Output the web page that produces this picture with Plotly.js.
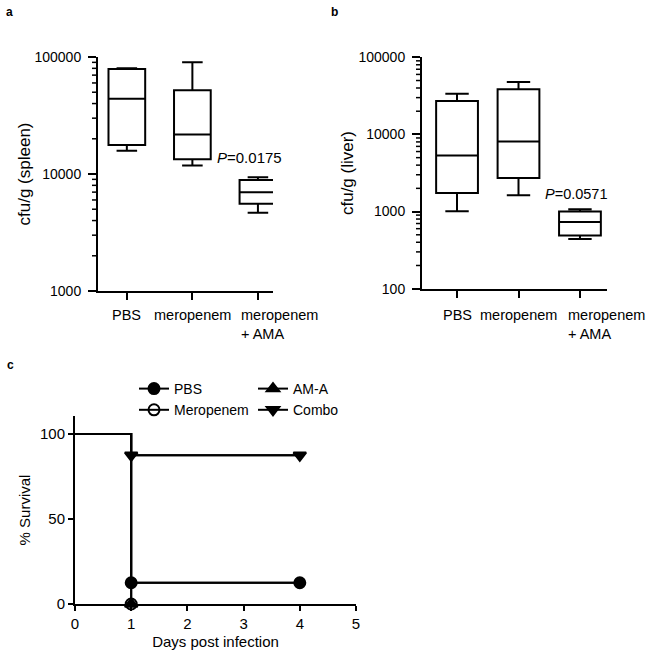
<!DOCTYPE html>
<html>
<head>
<meta charset="utf-8">
<script src="https://cdn.plot.ly/plotly-3.0.1.min.js"></script>
<style>
  html, body { margin: 0; padding: 0; background: #fff; }
  #chart { width: 649px; height: 658px; }
</style>
</head>
<body>
<div id="chart"></div>
<script>
// groups shown in panels a and b
const groups = ['PBS', 'meropenem', 'meropenem + AMA'];
const groupLabels = ['PBS', 'meropenem', 'meropenem<br>+ AMA'];

// panel a: cfu/g spleen (box stats)
const spleenUpper = [80000, 90000, 9400];
const spleenQ3 = [79000, 52000, 8900];
const spleenMedian = [44000, 21800, 6970];
const spleenQ1 = [17700, 13400, 5570];
const spleenLower = [15800, 11800, 4670];

// panel b: cfu/g liver
const liverUpper = [33700, 47800, 1070];
const liverQ3 = [27100, 38400, 1000];
const liverMedian = [5330, 8120, 733];
const liverQ1 = [1745, 2730, 490];
const liverLower = [1010, 1630, 440];

const pSpleen = '<i>P</i>=0.0175';
const pLiver = '<i>P</i>=0.0571';

// panel c: survival
const days = [0, 1, 4];
const survPBS = [100, 12.5, 12.5];
const survMero = [100, 0];
const survAMA = [100, 0];
const survCombo = [100, 87.5, 87.5];

const W = 649, H = 658;
const fx = px => px / W;
const fy = py => 1 - py / H;
const FONT = 'Arial, "Liberation Sans", sans-serif';

// panel frames in pixels
const A = { left: 98, right: 273, top: 57, bottom: 291, lo: 3, hi: 5 };
const B = { left: 422, right: 607, top: 57.3, bottom: 288.7, lo: 2, hi: 5 };

// short minor ticks (2..9 per decade) along a log y axis, in paper coords
function minorTickShapes(p, len) {
    const out = [];
    for (let e = p.lo; e < p.hi; e++) {
        for (let k = 2; k <= 9; k++) {
            const f = (Math.log10(k * Math.pow(10, e)) - p.lo) / (p.hi - p.lo);
            const py = p.bottom - f * (p.bottom - p.top);
            out.push({
                type: 'line', xref: 'paper', yref: 'paper', layer: 'above',
                x0: fx(p.left - len), x1: fx(p.left), y0: fy(py), y1: fy(py),
                line: { color: '#000', width: 1.5 }
            });
        }
    }
    return out;
}

function boxTrace(xa, ya, q1, med, q3, lo, hi, width) {
    return {
        type: 'box', xaxis: xa, yaxis: ya,
        x: groups, q1: q1, median: med, q3: q3,
        lowerfence: lo, upperfence: hi,
        width: width, whiskerwidth: 0.56,
        boxpoints: false,
        line: { color: '#000', width: 2 },
        fillcolor: 'rgba(255,255,255,0)',
        showlegend: false, hoverinfo: 'skip'
    };
}

// one survival series = a step line (no legend) plus the marked points
function survTraces(name, xs, ys, symbol, size) {
    const line = {
        x: xs, y: ys, xaxis: 'x3', yaxis: 'y3',
        mode: 'lines', line: { color: '#000', width: 2, shape: 'hv' },
        showlegend: false, hoverinfo: 'skip', cliponaxis: false
    };
    const pts = {
        x: xs.slice(1), y: ys.slice(1), xaxis: 'x3', yaxis: 'y3',
        name: name,
        mode: 'lines+markers', line: { color: '#000', width: 2, shape: 'hv' },
        marker: { symbol: symbol, size: size, color: '#000', line: { color: '#000', width: 2 } },
        cliponaxis: false, hoverinfo: 'skip'
    };
    return [line, pts];
}

const data = [
    boxTrace('x', 'y', spleenQ1, spleenMedian, spleenQ3, spleenLower, spleenUpper, 0.56),
    boxTrace('x2', 'y2', liverQ1, liverMedian, liverQ3, liverLower, liverUpper, 0.68),
];
const pbs = survTraces('PBS', days, survPBS, 'circle', 11);
const mero = survTraces('Meropenem', days.slice(0, 2), survMero, 'circle-open', 11);
const ama = survTraces('AM-A', days.slice(0, 2), survAMA, 'triangle-up', 11);
const combo = survTraces('Combo', days, survCombo, 'triangle-down', 11);
pbs[1].legend = 'legend'; mero[1].legend = 'legend';
ama[1].legend = 'legend2'; combo[1].legend = 'legend2';
data.push(ama[0], ama[1], combo[0], combo[1], pbs[0], pbs[1], mero[0], mero[1]);

const axisBase = {
    showline: true, linewidth: 2, linecolor: '#000',
    showgrid: false, zeroline: false,
    ticks: 'outside', tickwidth: 2, tickcolor: '#000',
    tickfont: { family: FONT, size: 14, color: '#000' },
    fixedrange: true
};

const catAxis = (domain, anchor, range) => Object.assign({}, axisBase, {
    domain: domain, anchor: anchor, type: 'category', range: range,
    ticklen: 7, showticklabels: false
});

const logAxis = (domain, anchor, range, title, standoff) => Object.assign({}, axisBase, {
    domain: domain, anchor: anchor, type: 'log', range: range,
    dtick: 1, tickformat: 'd', ticklen: 8, ticklabelstandoff: 4,
    title: { text: title, font: { family: FONT, size: 17, color: '#000' }, standoff: standoff }
});

const annotations = [];
const lab = (x, y, text) => annotations.push({
    xref: 'paper', yref: 'paper', x: fx(x), y: fy(y), text: '<b>' + text + '</b>',
    showarrow: false, xanchor: 'center', yanchor: 'middle',
    font: { family: FONT, size: 12, color: '#000' }
});
lab(9, 12, 'a'); lab(334, 12, 'b'); lab(10, 365, 'c');

function catLabels(xa, yTop, lastShift) {
    groups.forEach((g, i) => {
        const last = i === groups.length - 1;
        annotations.push({
            xref: xa, yref: 'paper', x: g, y: fy(yTop),
            text: groupLabels[i], showarrow: false, align: 'left',
            xanchor: last ? 'left' : 'center', yanchor: 'top',
            xshift: last ? lastShift : 0,
            font: { family: FONT, size: 14.5, color: '#000' }
        });
    });
}
catLabels('x', 305, -19);
catLabels('x2', 305, -14);

annotations.push({
    xref: 'x', yref: 'y', x: groups[2], y: Math.log10(spleenUpper[2]),
    text: pSpleen, showarrow: false, xanchor: 'center', yanchor: 'bottom',
    xshift: -8, yshift: 9, font: { family: FONT, size: 15, color: '#000' }
});
annotations.push({
    xref: 'x2', yref: 'y2', x: groups[2], y: Math.log10(liverUpper[2]),
    text: pLiver, showarrow: false, xanchor: 'center', yanchor: 'bottom',
    xshift: -3, yshift: 5, font: { family: FONT, size: 14.5, color: '#000' }
});

const legendBase = {
    xref: 'paper', yref: 'paper', xanchor: 'left', yanchor: 'top',
    bgcolor: 'rgba(0,0,0,0)', borderwidth: 0,
    font: { family: FONT, size: 14, color: '#000' },
    orientation: 'v', tracegroupgap: 0
};

const shapes = [].concat(minorTickShapes(A, 6), minorTickShapes(B, 6));

const layout = {
    width: W, height: H,
    margin: { l: 0, r: 0, t: 0, b: 0 },
    paper_bgcolor: '#fff', plot_bgcolor: '#fff',
    font: { family: FONT, color: '#000' },
    xaxis: catAxis([fx(A.left), fx(A.right)], 'y', [-0.44, 2.23]),
    yaxis: logAxis([fy(A.bottom), fy(A.top)], 'x', [A.lo, A.hi], 'cfu/g (spleen)', 0),
    xaxis2: catAxis([fx(B.left), fx(B.right)], 'y2', [-0.57, 2.44]),
    yaxis2: logAxis([fy(B.bottom), fy(B.top)], 'x2', [B.lo, B.hi], 'cfu/g (liver)', 1),
    xaxis3: Object.assign({}, axisBase, {
        domain: [fx(75), fx(356)], anchor: 'y3', range: [0, 5], dtick: 1,
        ticklen: 5, tickfont: { family: FONT, size: 15, color: '#000' },
        title: { text: 'Days post infection', font: { family: FONT, size: 15, color: '#000' }, standoff: 5 }
    }),
    yaxis3: Object.assign({}, axisBase, {
        domain: [fy(604), fy(416)], anchor: 'x3', range: [0, 110.6],
        tickvals: [0, 50, 100], ticklen: 5,
        tickfont: { family: FONT, size: 15, color: '#000' },
        title: { text: '% Survival', font: { family: FONT, size: 15, color: '#000' }, standoff: 6 }
    }),
    legend: Object.assign({}, legendBase, { x: fx(134), y: fy(373) }),
    legend2: Object.assign({}, legendBase, { x: fx(253), y: fy(373) }),
    shapes: shapes,
    annotations: annotations
};

Plotly.newPlot('chart', data, layout, { displayModeBar: false, staticPlot: true });
</script>
</body>
</html>
